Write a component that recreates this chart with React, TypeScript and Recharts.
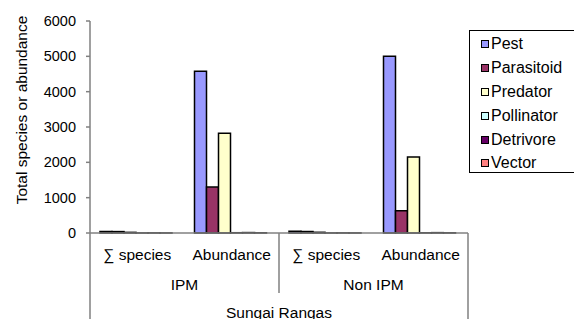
import React from 'react';
import { BarChart, Bar, XAxis, YAxis, Legend } from 'recharts';

const categories = ['∑ species', 'Abundance', '∑ species', 'Abundance'];
const groups = ['IPM', 'IPM', 'Non IPM', 'Non IPM'];
const site = 'Sungai Rangas';
const pest = [45, 4580, 48, 5000];
const parasitoid = [40, 1300, 42, 630];
const predator = [18, 2820, 20, 2150];
const pollinator = [2, 8, 2, 6];
const detrivore = [3, 12, 3, 10];
const vector = [2, 6, 2, 5];
const yTicks = [0, 1000, 2000, 3000, 4000, 5000, 6000];

const seriesNames = ['Pest', 'Parasitoid', 'Predator', 'Pollinator', 'Detrivore', 'Vector'];
const seriesColors = ['#9999FF', '#993366', '#FFFFCC', '#CCFFFF', '#660066', '#FF8080'];
const seriesValues = [pest, parasitoid, predator, pollinator, detrivore, vector];

const data = categories.map((c, i) => {
  const row: any = { cat: c, group: groups[i], site };
  seriesNames.forEach((s, k) => {
    row[s] = seriesValues[k][i];
  });
  return row;
});

const W = 574;
const H = 319;
const PLOT_LEFT = 90;
const PLOT_RIGHT = 468;
const PLOT_W = PLOT_RIGHT - PLOT_LEFT;
const AXIS_COLOR = '#808080';
const FONT = 'Arial, "Liberation Sans", sans-serif';

const CatTick = (props: any) => {
  const { x, y, payload } = props;
  return (
    <text x={x} y={y + 27} textAnchor="middle" fontSize={15.5} fontFamily={FONT} fill="#000">
      {payload.value}
    </text>
  );
};

const GroupTick = (props: any) => {
  const { x, y, payload, index } = props;
  const half = PLOT_W / 4;
  return (
    <g>
      <text x={x} y={y + 27} textAnchor="middle" fontSize={15.5} fontFamily={FONT} fill="#000">
        {payload.value}
      </text>
      {index === 0 && (
        <line x1={x + half} x2={x + half} y1={y - 30} y2={y + 30} stroke={AXIS_COLOR} strokeWidth={1.5} />
      )}
    </g>
  );
};

const SiteTick = (props: any) => {
  const { x, y, payload } = props;
  const half = PLOT_W / 2;
  return (
    <g>
      <text x={x} y={y + 25} textAnchor="middle" fontSize={15.5} fontFamily={FONT} fill="#000">
        {payload.value}
      </text>
      <line x1={x - half} x2={x - half} y1={y - 60} y2={y + 30} stroke={AXIS_COLOR} strokeWidth={1.5} />
      <line x1={x + half} x2={x + half} y1={y - 60} y2={y + 30} stroke={AXIS_COLOR} strokeWidth={1.5} />
    </g>
  );
};

const LegendContent = () => {
  return (
    <div
      style={{
        border: '1.5px solid #000',
        width: 112,
        height: 143,
        boxSizing: 'border-box',
        background: '#fff',
        paddingTop: 1,
      }}
    >
      {seriesNames.map((name, k) => (
        <div
          key={name}
          style={{
            display: 'flex',
            alignItems: 'center',
            height: 23.9,
            paddingLeft: 11,
            fontFamily: FONT,
            fontSize: 16,
            color: '#000',
            lineHeight: '16px',
          }}
        >
          <span
            style={{
              display: 'inline-block',
              width: 6,
              height: 6,
              border: '1.5px solid #000',
              background: seriesColors[k],
              marginRight: 2,
            }}
          />
          <span>{name}</span>
        </div>
      ))}
    </div>
  );
};

export default function App() {
  return (
    <div style={{ position: 'absolute', left: 0, top: 0, width: W, height: H, background: '#fff' }}>
      <BarChart
        width={W}
        height={H}
        data={data}
        margin={{ top: 21, right: W - PLOT_RIGHT, bottom: 0, left: 30 }}
        barCategoryGap={10}
        barGap={0}
      >
        <YAxis
          width={60}
          domain={[0, 6000]}
          ticks={yTicks}
          interval={0}
          tickSize={4}
          tickMargin={10}
          axisLine={{ stroke: AXIS_COLOR, strokeWidth: 1.5 }}
          tickLine={{ stroke: AXIS_COLOR, strokeWidth: 1.5 }}
          tick={{ fill: '#000', fontSize: 14.5, fontFamily: FONT }}
        />
        <XAxis
          xAxisId={0}
          dataKey="cat"
          height={30}
          tickSize={0}
          tickMargin={0}
          interval={0}
          tickLine={false}
          axisLine={{ stroke: AXIS_COLOR, strokeWidth: 1.5 }}
          tick={<CatTick />}
        />
        <XAxis
          xAxisId="group"
          dataKey="group"
          allowDuplicatedCategory={false}
          height={30}
          tickSize={0}
          tickMargin={0}
          interval={0}
          tickLine={false}
          axisLine={false}
          tick={<GroupTick />}
        />
        <XAxis
          xAxisId="site"
          dataKey="site"
          allowDuplicatedCategory={false}
          height={26}
          tickSize={0}
          tickMargin={0}
          interval={0}
          tickLine={false}
          axisLine={false}
          tick={<SiteTick />}
        />
        <Legend
          layout="vertical"
          align="center"
          verticalAlign="middle"
          content={<LegendContent />}
          wrapperStyle={{ left: 469, top: 30, width: 112, height: 143 }}
        />
        {seriesNames.map((s, k) => (
          <Bar
            key={s}
            dataKey={s}
            xAxisId={0}
            fill={seriesColors[k]}
            stroke="#000"
            strokeWidth={1.5}
            isAnimationActive={false}
          />
        ))}
        <text
          x={21}
          y={110}
          transform="rotate(-90 21 110)"
          textAnchor="middle"
          dominantBaseline="central"
          fontSize={15.5}
          fontFamily={FONT}
          fill="#000"
        >
          Total species or abundance
        </text>
      </BarChart>
    </div>
  );
}
